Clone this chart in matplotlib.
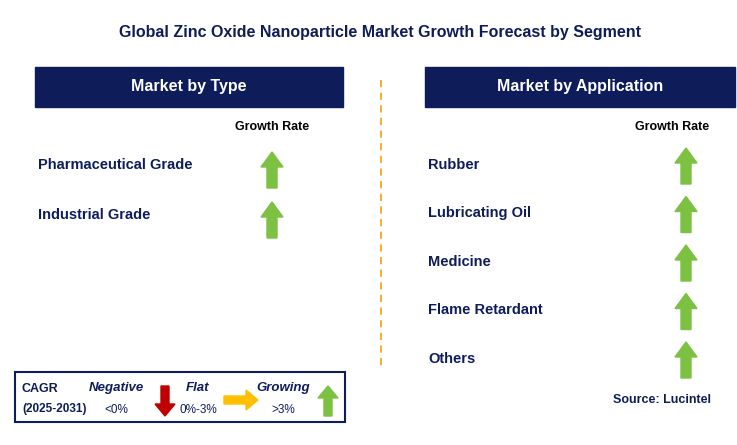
import matplotlib
matplotlib.use("Agg")
import matplotlib.pyplot as plt
from matplotlib.patches import Rectangle, Polygon

plt.rcParams["font.family"] = "Liberation Sans"

title = "Global Zinc Oxide Nanoparticle Market Growth Forecast by Segment"
type_categories = ["Pharmaceutical Grade", "Industrial Grade"]
type_growth = ["growing", "growing"]
app_categories = ["Rubber", "Lubricating Oil", "Medicine", "Flame Retardant", "Others"]
app_growth = ["growing", "growing", "growing", "growing", "growing"]

NAVY = "#0E1D5A"
GREEN = "#7CC142"
RED = "#C00000"
ORANGE = "#FFC000"

fig = plt.figure(figsize=(7.37, 4.45), dpi=100)
ax = fig.add_axes([0, 0, 1, 1])
ax.set_xlim(0, 737); ax.set_ylim(445, 0); ax.axis("off")

def up_arrow(cx, cy, color, h=36, w=22, sw=10, hh=15):
    top, bot = cy - h/2, cy + h/2
    pts = [(cx, top), (cx + w/2, top + hh), (cx + sw/2, top + hh), (cx + sw/2, bot),
           (cx - sw/2, bot), (cx - sw/2, top + hh), (cx - w/2, top + hh)]
    ax.add_patch(Polygon(pts, closed=True, color=color))

def down_arrow(cx, cy, color, h=36, w=22, sw=10, hh=15):
    top, bot = cy - h/2, cy + h/2
    pts = [(cx, bot), (cx + w/2, bot - hh), (cx + sw/2, bot - hh), (cx + sw/2, top),
           (cx - sw/2, top), (cx - sw/2, bot - hh), (cx - w/2, bot - hh)]
    ax.add_patch(Polygon(pts, closed=True, color=color))

def right_arrow(cx, cy, color, l=34, w=22, sw=10, hl=14):
    lft, rgt = cx - l/2, cx + l/2
    pts = [(rgt, cy), (rgt - hl, cy - w/2), (rgt - hl, cy - sw/2), (lft, cy - sw/2),
           (lft, cy + sw/2), (rgt - hl, cy + sw/2), (rgt - hl, cy + w/2)]
    ax.add_patch(Polygon(pts, closed=True, color=color))

def draw(kind, cx, cy):
    if kind == "growing": up_arrow(cx, cy, GREEN)
    elif kind == "negative": down_arrow(cx, cy, RED)
    else: right_arrow(cx, cy, ORANGE)

ax.text(380, 32, title, ha="center", va="center", fontsize=11.5, fontweight="bold", color=NAVY)

for x0, x1, label in [(35, 343, "Market by Type"), (425, 735, "Market by Application")]:
    ax.add_patch(Rectangle((x0, 67), x1 - x0, 40, color=NAVY))
    ax.text((x0 + x1) / 2, 87, label, ha="center", va="center", fontsize=11.5,
            fontweight="bold", color="white")

ax.plot([381, 381], [80, 370], color="#F5A623", lw=1.3, ls=(0, (4, 3)))

ax.text(272, 127, "Growth Rate", ha="center", va="center", fontsize=9, fontweight="bold", color="black")
ax.text(672, 127, "Growth Rate", ha="center", va="center", fontsize=9, fontweight="bold", color="black")

for i, (c, g) in enumerate(zip(type_categories, type_growth)):
    y = 165 + 50 * i
    ax.text(38, y, c, ha="left", va="center", fontsize=10.5, fontweight="bold", color=NAVY)
    draw(g, 272, y + 5)

for i, (c, g) in enumerate(zip(app_categories, app_growth)):
    y = 165 + 48.5 * i
    ax.text(428, y, c, ha="left", va="center", fontsize=10.5, fontweight="bold", color=NAVY)
    draw(g, 686, y + 1)

# legend
ax.add_patch(Rectangle((15, 372), 330, 50, fill=False, ec=NAVY, lw=1.5))
ax.text(22, 389, "CAGR", ha="left", va="center", fontsize=9, fontweight="bold", color=NAVY)
ax.text(22, 409, "(2025-2031)", ha="left", va="center", fontsize=8.5, fontweight="bold", color=NAVY)
for x, lab, sub in [(116, "Negative", "<0%"), (198, "Flat", "0%-3%"), (283, "Growing", ">3%")]:
    ax.text(x, 388, lab, ha="center", va="center", fontsize=9.5, fontweight="bold", style="italic", color=NAVY)
    ax.text(x, 410, sub, ha="center", va="center", fontsize=8.5, color=NAVY)
down_arrow(165, 401, RED, h=30, w=20, sw=8, hh=12)
right_arrow(241, 400, ORANGE, l=34, w=20, sw=8, hl=12)
up_arrow(328, 401, GREEN, h=30, w=20, sw=8, hh=12)

ax.text(662, 400, "Source: Lucintel", ha="center", va="center", fontsize=9, fontweight="bold", color=NAVY)

fig.savefig("out.png", dpi=100)
